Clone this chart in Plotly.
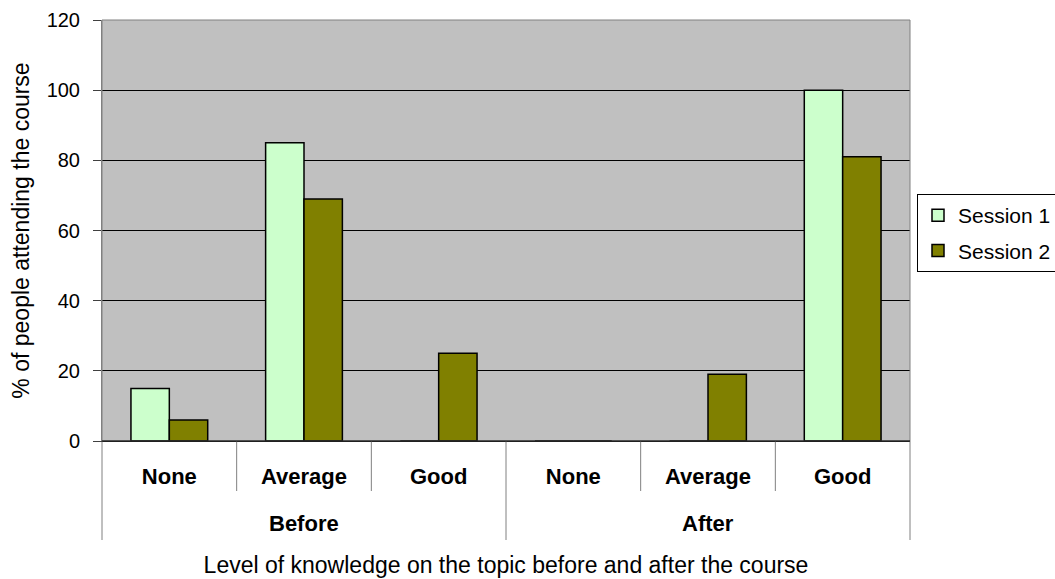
import plotly.graph_objects as go

periods = ["Before", "Before", "Before", "After", "After", "After"]
levels = ["None", "Average", "Good", "None", "Average", "Good"]
session1 = [15, 85, 0, 0, 0, 100]
session2 = [6, 69, 25, 0, 19, 81]
series_names = ["Session 1", "Session 2"]
y_ticks = [0, 20, 40, 60, 80, 100, 120]

FONT = "Liberation Sans, Arial, sans-serif"

# unique category per (period, level) pair; level shown as tick text, period as group label
cats = [p + " | " + l for p, l in zip(periods, levels)]
n = len(cats)
group_starts = [i for i in range(n) if i == 0 or periods[i] != periods[i - 1]]
group_bounds = group_starts + [n]

fig = go.Figure()
fig.add_trace(go.Bar(
    x=cats, y=session1, name=series_names[0],
    marker=dict(color="#CCFFCC", line=dict(color="black", width=1.5)),
    legendgroup="s1",
))
fig.add_trace(go.Bar(
    x=cats, y=session2, name=series_names[1],
    marker=dict(color="#808000", line=dict(color="black", width=1.5)),
    legendgroup="s2",
))

PLOT_H = 579 - 20 - 138

# divider lines below the category axis: short between levels, long between periods
for k in range(n + 1):
    depth = 99 if k in group_bounds else 50
    fig.add_shape(type="line", xref="paper", yref="paper",
                  x0=k / n, x1=k / n, y0=0, y1=-depth / PLOT_H,
                  line=dict(color="#808080", width=1))

# period (outer level) labels
for gi in range(len(group_starts)):
    s, e = group_bounds[gi], group_bounds[gi + 1]
    fig.add_annotation(xref="paper", yref="paper",
                       x=(s + e) / 2 / n, y=-82 / PLOT_H,
                       text=periods[s], showarrow=False,
                       xanchor="center", yanchor="middle",
                       font=dict(family=FONT, size=22, color="black", weight="bold"))

fig.update_layout(
    width=1055, height=579,
    margin=dict(l=102, r=145, t=20, b=138, autoexpand=False),
    paper_bgcolor="white",
    plot_bgcolor="#C0C0C0",
    barmode="group",
    bargap=0.43,
    bargroupgap=0,
    font=dict(family=FONT, color="black", size=20),
    legend=dict(
        xref="container", yref="container",
        x=917 / 1055, y=1 - 194 / 579, xanchor="left", yanchor="top",
        bgcolor="white", bordercolor="black", borderwidth=1,
        font=dict(family=FONT, size=21, color="black"),
        traceorder="grouped", tracegroupgap=5,
    ),
    xaxis=dict(
        type="category",
        tickvals=cats, ticktext=levels,
        showgrid=False,
        showline=True, linecolor="black", linewidth=1,
        ticks="",
        ticklabelstandoff=16,
        tickfont=dict(family=FONT, size=22, color="black", weight="bold"),
        title=dict(text="Level of knowledge on the topic before and after the course",
                   font=dict(family=FONT, size=23, color="black"), standoff=68),
    ),
    yaxis=dict(
        range=[0, 120],
        tickvals=y_ticks,
        showgrid=True, gridcolor="black", gridwidth=1,
        zeroline=False,
        showline=True, linecolor="#808080", linewidth=1,
        ticks="outside", ticklen=8, tickcolor="#404040",
        ticklabelstandoff=9,
        tickfont=dict(family=FONT, size=20, color="black"),
        title=dict(text="% of people attending the course",
                   font=dict(family=FONT, size=23, color="black"), standoff=10),
    ),
)

fig.add_shape(type="rect", xref="paper", yref="paper", x0=0, y0=0, x1=1, y1=1,
              line=dict(color="#808080", width=1), layer="above")
fig.add_shape(type="line", xref="paper", yref="paper", x0=0, y0=0, x1=1, y1=0,
              line=dict(color="black", width=1), layer="above")

fig.write_html("out.html")
